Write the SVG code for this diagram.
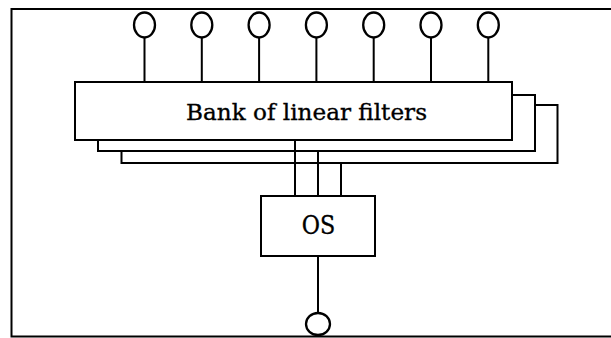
<svg xmlns="http://www.w3.org/2000/svg" width="611" height="338" viewBox="0 0 611 338">
<style>
.ln{stroke:#000;stroke-width:2;fill:none}
.cr{stroke:#000;stroke-width:2.3;fill:none}
.bx{stroke:#000;stroke-width:2;fill:#fff}
.tx{font-family:"DejaVu Serif","Liberation Serif",serif;fill:#000;stroke:#000;stroke-width:0.35}
</style>
<rect width="611" height="338" fill="#fff"/>
<path class="ln" d="M611,9 H11.5 V336.5 H611"/>
<g id="inputs">
<ellipse class="cr" cx="144.5" cy="25" rx="10.5" ry="12.5"/>
<ellipse class="cr" cx="201.8" cy="25" rx="10.5" ry="12.5"/>
<ellipse class="cr" cx="259.1" cy="25" rx="10.5" ry="12.5"/>
<ellipse class="cr" cx="316.4" cy="25" rx="10.5" ry="12.5"/>
<ellipse class="cr" cx="373.7" cy="25" rx="10.5" ry="12.5"/>
<ellipse class="cr" cx="431" cy="25" rx="10.5" ry="12.5"/>
<ellipse class="cr" cx="488.3" cy="25" rx="10.5" ry="12.5"/>
</g>
<g id="filters">
<rect class="bx" x="121.5" y="105" width="436" height="58"/>
<rect class="bx" x="98" y="95" width="437" height="56"/>
<rect class="bx" x="75" y="82" width="437" height="58"/>
<text class="tx" x="306.5" y="119.5" font-size="22.5" text-anchor="middle" textLength="241" lengthAdjust="spacingAndGlyphs">Bank of linear filters</text>
</g>
<g id="os">
<rect class="bx" x="261" y="196" width="114" height="60"/>
<text class="tx" x="318.5" y="233.5" font-size="26" text-anchor="middle" textLength="33.5" lengthAdjust="spacingAndGlyphs">OS</text>
</g>
<g id="output">
<ellipse class="cr" cx="318" cy="324" rx="12" ry="11"/>
</g>
<g id="connectors">
<path class="ln" d="M144.5,37.5 V82 M201.8,37.5 V82 M259.1,37.5 V82 M316.4,37.5 V82 M373.7,37.5 V82 M431,37.5 V82 M488.3,37.5 V82"/>
<path class="ln" d="M295,140 V196 M318,151 V196 M341,163 V196"/>
<path class="ln" d="M318,256 V313"/>
</g>
</svg>
